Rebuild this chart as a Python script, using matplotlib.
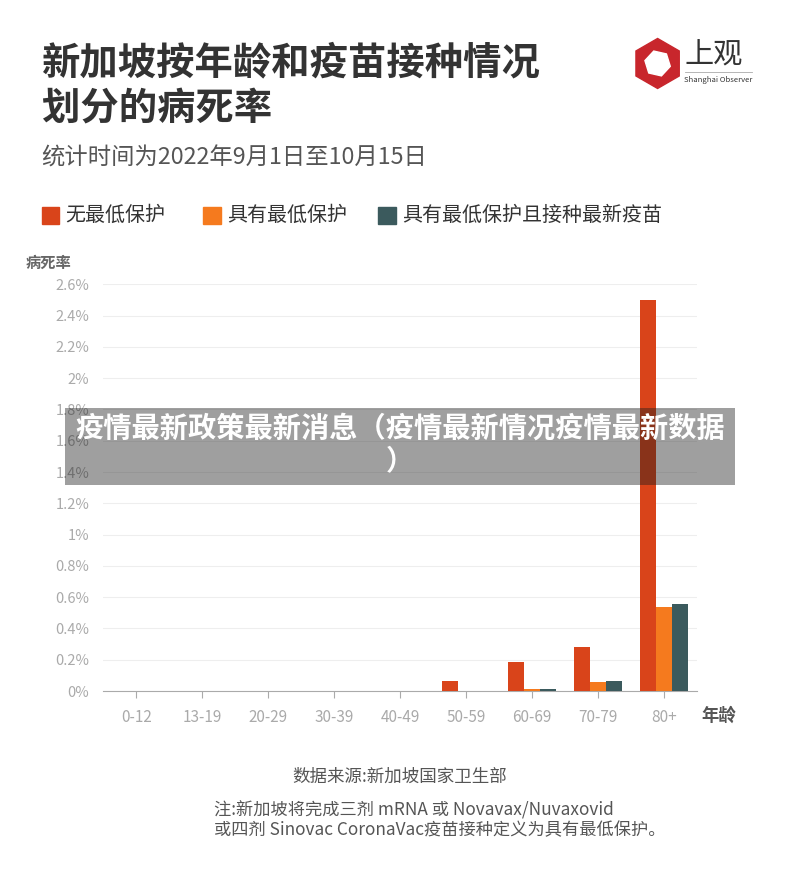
import matplotlib.pyplot as plt
import matplotlib.patches as mpatches
import numpy as np

plt.rcParams['font.family'] = ['Noto Sans CJK SC', 'DejaVu Sans']

# Data
age_groups = ['0-12', '13-19', '20-29', '30-39', '40-49', '50-59', '60-69', '70-79', '80+']
no_protection = [0, 0, 0, 0, 0, 0.065, 0.185, 0.28, 2.50]
min_protection = [0, 0, 0, 0, 0, 0.003, 0.01, 0.06, 0.54]
latest_vaccine = [0, 0, 0, 0, 0, 0.0, 0.01, 0.065, 0.555]
series_names = ['无最低保护', '具有最低保护', '具有最低保护且接种最新疫苗']
colors = ['#d9441a', '#f57a1e', '#3b5a5d']
y_ticks = [0, 0.2, 0.4, 0.6, 0.8, 1.0, 1.2, 1.4, 1.6, 1.8, 2.0, 2.2, 2.4, 2.6]
y_labels = ['0%', '0.2%', '0.4%', '0.6%', '0.8%', '1%', '1.2%', '1.4%', '1.6%', '1.8%',
            '2%', '2.2%', '2.4%', '2.6%']

fig = plt.figure(figsize=(8, 8.94), dpi=100)
ax = fig.add_axes([0.129, 0.227, 0.742, 0.455])

x = np.arange(len(age_groups))
w = 0.24
for i, (vals, c) in enumerate(zip([no_protection, min_protection, latest_vaccine], colors)):
    ax.bar(x + (i - 1) * w, vals, width=w, color=c, zorder=3)

ax.set_xlim(-0.5, len(age_groups) - 0.5)
ax.set_ylim(0, 2.6)
ax.set_yticks(y_ticks)
ax.set_yticklabels(y_labels, color='#aaaaaa', fontsize=10.5)
ax.set_xticks(x)
ax.set_xticklabels(age_groups, color='#aaaaaa', fontsize=11)
ax.tick_params(axis='y', length=0, pad=10)
ax.tick_params(axis='x', length=5, color='#aaaaaa', pad=8)
ax.grid(axis='y', color='#eeeeee', linewidth=0.8, zorder=0)
for s in ['top', 'right', 'left']:
    ax.spines[s].set_visible(False)
ax.spines['bottom'].set_color('#aaaaaa')

# Titles
fig.text(0.052, 0.930, '新加坡按年龄和疫苗接种情况', fontsize=27.6, fontweight='bold',
         color='#333333', va='center')
fig.text(0.052, 0.879, '划分的病死率', fontsize=27.6, fontweight='bold',
         color='#333333', va='center')
fig.text(0.052, 0.823, '统计时间为2022年9月1日至10月15日', fontsize=16.8,
         color='#555555', va='center')

# Legend
lx = [0.052, 0.254, 0.473]
for name, c, px in zip(series_names, colors, lx):
    fig.patches.append(mpatches.Rectangle((px, 0.750), 0.022, 0.019, color=c,
                                          transform=fig.transFigure))
    fig.text(px + 0.03, 0.759, name, fontsize=14.4, color='#333333', va='center')

fig.text(0.032, 0.706, '病死率', fontsize=11, fontweight='bold', color='#666666', va='center')
fig.text(0.877, 0.199, '年龄', fontsize=12.5, fontweight='bold', color='#555555', va='center')

# Source and note
fig.text(0.5, 0.131, '数据来源:新加坡国家卫生部', fontsize=12.6, color='#555555',
         ha='center', va='center')
fig.text(0.267, 0.094, '注:新加坡将完成三剂 mRNA 或 Novavax/Nuvaxovid', fontsize=12.4,
         color='#555555', va='center')
fig.text(0.267, 0.071, '或四剂 Sinovac CoronaVac疫苗接种定义为具有最低保护。', fontsize=12.4,
         color='#555555', va='center')

# Logo
cx, cy = 0.822, 0.929
hexagon = mpatches.RegularPolygon((cx * 8, cy * 8.94), 6, radius=0.25, orientation=0,
                                  color='#c8262c', transform=fig.dpi_scale_trans)
fig.patches.append(hexagon)
inner = mpatches.RegularPolygon((cx * 8, cy * 8.94), 6, radius=0.13, orientation=0.3,
                                color='white', transform=fig.dpi_scale_trans)
fig.patches.append(inner)
fig.text(0.856, 0.938, '上观', fontsize=21, color='#333333', va='center')
fig.text(0.855, 0.910, 'Shanghai Observer', fontsize=5.5, color='#333333', va='center')
fig.lines.append(plt.Line2D([0.856, 0.94], [0.920, 0.920], color='#aaaaaa', linewidth=0.6,
                            transform=fig.transFigure))

# Overlay banner
fig.patches.append(mpatches.Rectangle((0.081, 0.4575), 0.838, 0.086, color='#1c1c1c',
                                      alpha=0.42, transform=fig.transFigure, zorder=10,
                                      linewidth=0))
fig.text(0.5, 0.521, '疫情最新政策最新消息（疫情最新情况疫情最新数据', fontsize=20.3,
         fontweight='heavy', color='white', ha='center', va='center', zorder=11)
fig.text(0.5, 0.483, '）', fontsize=20.3, fontweight='heavy', color='white',
         ha='center', va='center', zorder=11)

fig.savefig('out.png', dpi=100, facecolor='white')
